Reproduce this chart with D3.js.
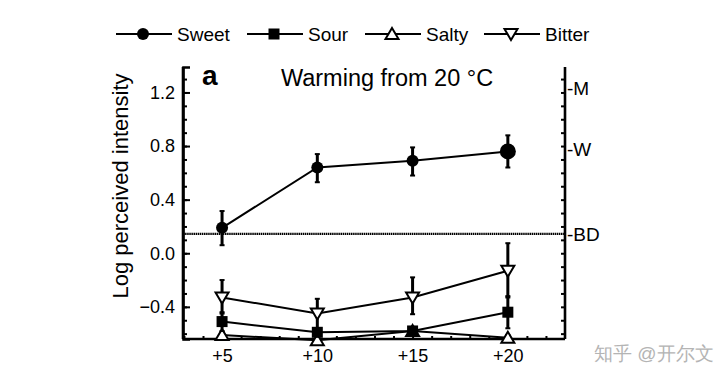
<!DOCTYPE html>
<html><head><meta charset="utf-8">
<script src="https://cdn.jsdelivr.net/npm/d3@7"></script>
<style>body{margin:0;background:#fff}svg{display:block}text{font-family:"Liberation Sans",Arial,sans-serif}</style>
</head><body><svg id="c" width="720" height="382"></svg>
<script>
const temps = [5, 10, 15, 20];
const xTickLabels = ["+5", "+10", "+15", "+20"];
const yTicks = [-0.4, 0.0, 0.4, 0.8, 1.2];
const sweet = [0.19, 0.64, 0.69, 0.76];
const sweetLo = [0.06, 0.53, 0.58, 0.64];
const sweetHi = [0.315, 0.74, 0.79, 0.88];
const sour = [-0.51, -0.59, -0.58, -0.44];
const sourLo = [-0.58, -0.62, -0.61, -0.56];
const sourHi = [-0.44, -0.56, -0.55, -0.32];
const salty = [-0.61, -0.65, -0.58, -0.63];
const saltyLo = [-0.63, -0.66, -0.60, -0.65];
const saltyHi = [-0.59, -0.64, -0.56, -0.61];
const bitter = [-0.33, -0.45, -0.33, -0.13];
const bitterLo = [-0.45, -0.56, -0.455, -0.33];
const bitterHi = [-0.2, -0.34, -0.18, 0.075];
const refLabels = ["M", "W", "BD"];
const refValues = [1.23, 0.78, 0.145];
const legendNames = ["Sweet", "Sour", "Salty", "Bitter"];

const svg = d3.select("#c");
const x = d3.scaleLinear().domain([2.95, 23]).range([183, 565]);
const y = d3.scaleLinear().domain([-0.64, 1.39]).range([339, 67]);

// dotted BD line
svg.append("line").attr("x1", x(2.95)).attr("x2", x(23))
  .attr("y1", y(refValues[2])).attr("y2", y(refValues[2]))
  .attr("stroke", "#000").attr("stroke-width", 2.2).attr("stroke-dasharray", "1.5,0.6");

// axes
const minorY = d3.range(-6, 14).map(d => d / 10);
const gL = svg.append("g").attr("transform", `translate(${x(2.95)},0)`)
  .call(d3.axisRight(y).tickValues(minorY).tickSize(4).tickFormat(""));
gL.append("g").call(d3.axisRight(y).tickValues(yTicks).tickSize(7).tickFormat(""));
const gL2 = svg.append("g").attr("transform", `translate(${x(2.95)},0)`)
  .call(d3.axisLeft(y).tickValues(yTicks).tickSize(0).tickPadding(8).tickFormat(d3.format(".1f")));
const gR = svg.append("g").attr("transform", `translate(${x(23)},0)`)
  .call(d3.axisLeft(y).tickValues(minorY).tickSize(4).tickFormat(""));
const gB = svg.append("g").attr("transform", `translate(0,${y(-0.64)})`)
  .call(d3.axisTop(x).tickValues(d3.range(3, 23)).tickSize(3).tickFormat(""));
const gB2 = svg.append("g").attr("transform", `translate(0,${y(-0.64)})`)
  .call(d3.axisBottom(x).tickValues(temps).tickSize(0).tickPadding(10).tickFormat((d, i) => xTickLabels[i]));
[gL, gL2, gR, gB, gB2].forEach(g => {
  g.selectAll(".domain").attr("stroke", "#000").attr("stroke-width", 2.6);
  g.selectAll(".tick line").attr("stroke", "#000").attr("stroke-width", 2);
  g.selectAll("text").attr("font-size", 18).attr("fill", "#000").attr("font-family", "Liberation Sans, Arial, sans-serif");
});
gL2.select(".domain").remove();
gB2.select(".domain").remove();
gB.select(".domain").attr("d", `M${x(2.95)},0H${x(23)}`);
gL.select(".domain").attr("d", `M0,${y(1.39)}V${y(-0.64)}`);
gR.select(".domain").attr("d", `M0,${y(1.39)}V${y(-0.64)}`);

// right labels
svg.selectAll(".rl").data(refLabels).enter().append("text")
  .attr("x", x(23) + 2).attr("y", (d, i) => y(refValues[i])).attr("dy", "0.36em")
  .attr("font-size", 19).text(d => "-" + d);

// series
const series = [
  {v: sweet, lo: sweetLo, hi: sweetHi, shape: "circle"},
  {v: sour, lo: sourLo, hi: sourHi, shape: "square"},
  {v: salty, lo: saltyLo, hi: saltyHi, shape: "up"},
  {v: bitter, lo: bitterLo, hi: bitterHi, shape: "down"}
];
function marker(g, shape, cx, cy, big) {
  if (shape === "circle") {
    g.append("circle").attr("cx", cx).attr("cy", cy).attr("r", big ? 8 : 6).attr("fill", "#000");
  } else if (shape === "square") {
    g.append("rect").attr("x", cx - 5.5).attr("y", cy - 5.5).attr("width", 11).attr("height", 11).attr("fill", "#000");
  } else if (shape === "up") {
    g.append("path").attr("d", `M${cx},${cy - 6}L${cx + 6.5},${cy + 5}L${cx - 6.5},${cy + 5}Z`)
      .attr("fill", "#fff").attr("stroke", "#000").attr("stroke-width", 2);
  } else {
    g.append("path").attr("d", `M${cx},${cy + 6}L${cx + 6.5},${cy - 5}L${cx - 6.5},${cy - 5}Z`)
      .attr("fill", "#fff").attr("stroke", "#000").attr("stroke-width", 2);
  }
}
const line = d3.line().x((d, i) => x(temps[i])).y(d => y(d));
const order = [2, 1, 3, 0];
order.forEach(si => {
  const s = series[si];
  const g = svg.append("g");
  g.append("path").attr("d", line(s.v)).attr("fill", "none").attr("stroke", "#000").attr("stroke-width", 2);
  temps.forEach((t, i) => {
    g.append("line").attr("x1", x(t)).attr("x2", x(t)).attr("y1", y(s.lo[i])).attr("y2", y(s.hi[i]))
      .attr("stroke", "#000").attr("stroke-width", 3);
    [s.lo[i], s.hi[i]].forEach(e => g.append("line").attr("x1", x(t) - 2.5).attr("x2", x(t) + 2.5)
      .attr("y1", y(e)).attr("y2", y(e)).attr("stroke", "#000").attr("stroke-width", 2));
  });
  temps.forEach((t, i) => marker(g, s.shape, x(t), y(s.v[i]), si === 0 && i === 3));
});

// legend
const legX = [116, 247, 365, 484];
const lg = svg.append("g");
legendNames.forEach((n, i) => {
  const x0 = legX[i];
  lg.append("line").attr("x1", x0).attr("x2", x0 + 56).attr("y1", 34).attr("y2", 34)
    .attr("stroke", "#000").attr("stroke-width", 2);
  marker(lg, series[i].shape, x0 + 27, 34, false);
  lg.append("text").attr("x", x0 + 61).attr("y", 34).attr("dy", "0.36em").attr("font-size", 19).text(n);
});

// title, panel letter, axis title
svg.append("text").attr("x", 202).attr("y", 85).attr("font-size", 28).attr("font-weight", "bold").text("a");
svg.append("text").attr("x", 387).attr("y", 86).attr("text-anchor", "middle").attr("font-size", 23.5).text("Warming from 20 \u00B0C");
svg.append("text").attr("transform", "translate(128,186) rotate(-90)").attr("text-anchor", "middle")
  .attr("font-size", 22).text("Log perceived intensity");

// watermark
svg.append("text").attr("x", 594).attr("y", 360).attr("font-size", 19).attr("fill", "#b4b4b4")
  .attr("font-family", "Noto Sans CJK SC").text("知乎 @开尔文");
</script></body></html>
